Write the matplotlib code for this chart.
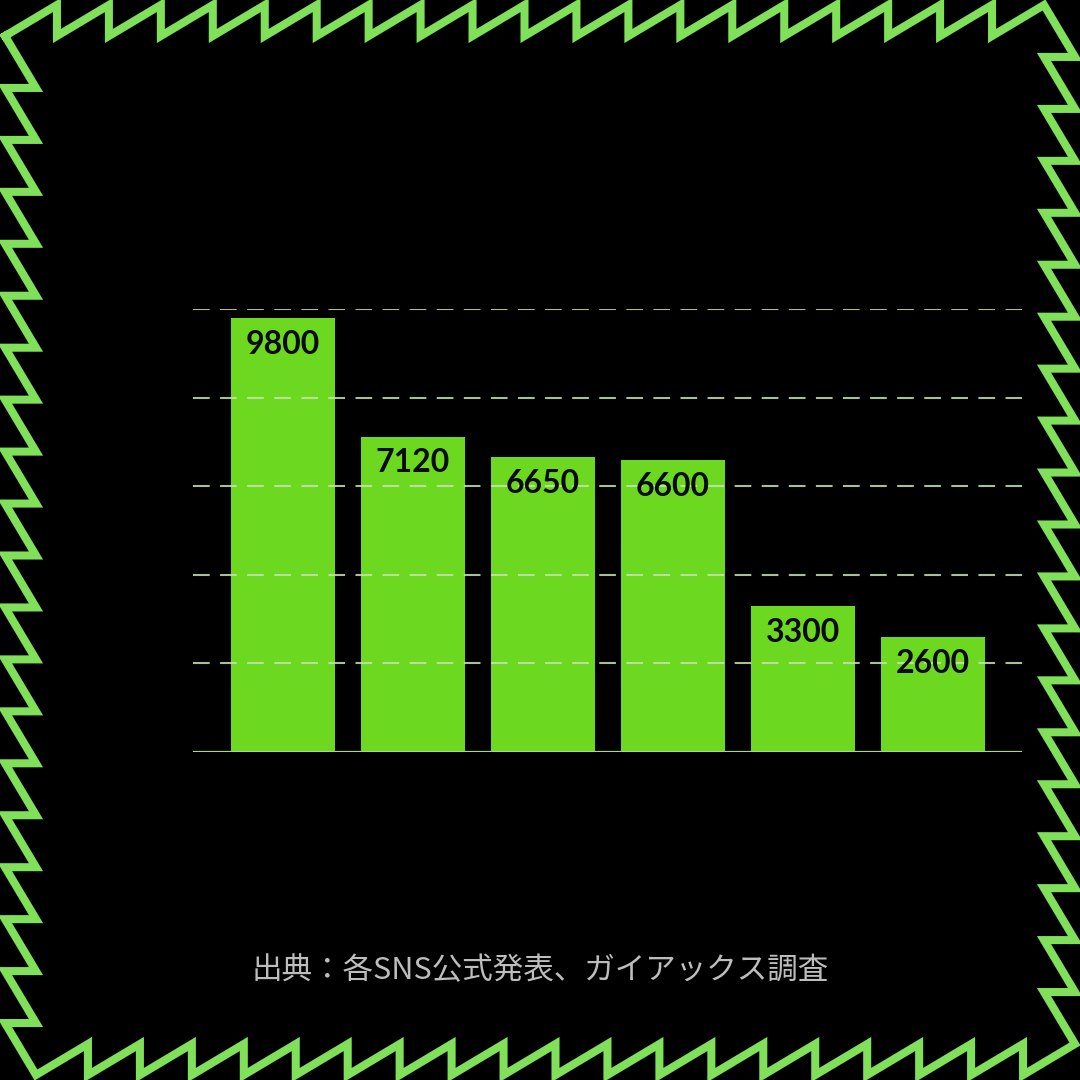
import numpy as np
import matplotlib
matplotlib.use('Agg')
import matplotlib.pyplot as plt
from matplotlib.lines import Line2D

# values
values = [9800, 7120, 6650, 6600, 3300, 2600]
labels = ['9800', '7120', '6650', '6600', '3300', '2600']
grid_ticks = [2000, 4000, 6000, 8000, 10000]
source = '出典：各SNS公式発表、ガイアックス調査'

bg = '#000000'
bar_color = '#6cd81f'
border_color = '#80e05a'
grid_color = '#c8e2b4'

W = 1080
fig = plt.figure(figsize=(10.8, 10.8), dpi=100, facecolor=bg)

# axes placed in pixel coords
left, right, top, base = 193, 1022, 309, 752
ax = fig.add_axes([left / W, 1 - base / W, (right - left) / W, (base - top) / W])
ax.set_facecolor(bg)

x = np.arange(len(values))
ax.bar(x, values, width=0.8, color=bar_color, zorder=2)
for t in grid_ticks:
    ax.axhline(t, color=grid_color, lw=1.5, ls=(0, (8, 5)), alpha=0.85, zorder=3)
ax.axhline(0, color='#a6d98a', lw=1.6, zorder=3)

for xi, v, lab in zip(x, values, labels):
    ax.annotate(lab, (xi, v), xytext=(0, -19), textcoords='offset points',
                ha='center', va='center', fontsize=23, fontweight='bold',
                family='Lato', color='#0a0a0a', zorder=4)

ax.set_xlim(-0.69, 5.685)
ax.set_ylim(0, 10000)
ax.axis('off')

# zigzag frame, clockwise sawtooth
o, i, n = 5, 36, 20
pts = []
# top edge, going right
xs = np.linspace(o, W - i, n + 1)
pts.append((o, i))
for k in range(1, n + 1):
    pts.append((xs[k], o))
    if k < n:
        pts.append((xs[k], i))
# right edge, going down
ys = np.linspace(o, W - i, n + 1)
for k in range(1, n + 1):
    pts.append((W - o, ys[k]))
    if k < n:
        pts.append((W - i, ys[k]))
# bottom edge, going left
xs = np.linspace(W - o, i, n + 1)
for k in range(1, n + 1):
    pts.append((xs[k], W - o))
    if k < n:
        pts.append((xs[k], W - i))
# left edge, going up
ys = np.linspace(W - o, i, n + 1)
for k in range(1, n + 1):
    pts.append((o, ys[k]))
    if k < n:
        pts.append((i, ys[k]))
pts = np.array(pts)
fig.add_artist(Line2D(pts[:, 0] / W, 1 - pts[:, 1] / W, transform=fig.transFigure,
                      color=border_color, lw=5.8, solid_joinstyle='miter'))

fig.text(0.5, 1 - 971 / W, source, ha='center', va='center', fontsize=22,
         color='#bdbdbd', family=['Noto Sans CJK JP', 'DejaVu Sans'])

fig.savefig('out.png', dpi=100, facecolor=bg)
